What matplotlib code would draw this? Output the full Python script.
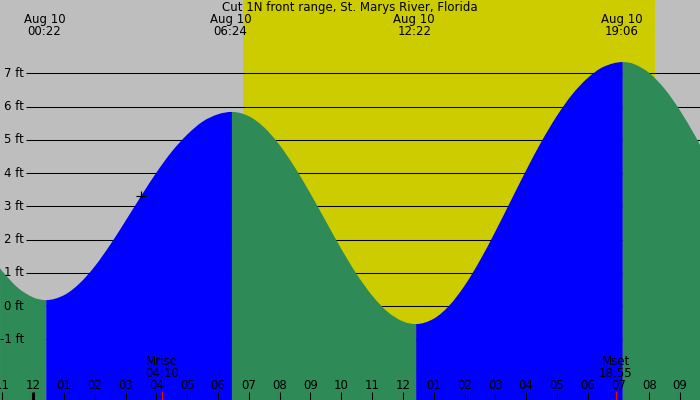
import matplotlib
matplotlib.use("Agg")
import matplotlib.pyplot as plt
from matplotlib.path import Path
from matplotlib.patches import PathPatch

title = "Cut 1N front range, St. Marys River, Florida"
day_label = "Aug 10"

# water level, hours after midnight Aug 10 -> feet
tide_hours = [-1.08, -1.0, -0.5, 0.0, 0.42, 1.0, 1.5, 2.0, 2.5, 3.0, 3.5,
              4.0, 4.5, 5.0, 5.5, 6.0, 6.45, 7.0, 7.5, 8.0, 8.5, 9.0, 9.5,
              10.0, 10.5, 11.0, 11.5, 12.0, 12.43, 13.0, 13.5, 14.0, 14.5,
              15.0, 15.5, 16.0, 16.5, 17.0, 17.5, 18.0, 18.5, 19.14, 19.5,
              20.0, 20.5, 21.0, 21.5, 21.65]
tide_feet = [1.14, 1.04, 0.55, 0.26, 0.18, 0.33, 0.68, 1.20, 1.85, 2.57, 3.31,
             4.02, 4.65, 5.16, 5.55, 5.77, 5.84, 5.71, 5.37, 4.84, 4.16, 3.38, 2.55,
             1.72, 0.96, 0.32, -0.17, -0.46, -0.54, -0.38, 0.01, 0.61, 1.37,
             2.24, 3.16, 4.08, 4.95, 5.72, 6.37, 6.86, 7.19, 7.34, 7.28,
             7.01, 6.53, 5.88, 5.10, 4.84]

# high / low tide turning points (where the fill colour changes)
turn_hours = [0.42, 6.45, 12.43, 19.14]
event_times = ["00:22", "06:24", "12:22", "19:06"]

sunrise, sunset = 6.81, 20.19
moon_names = ["Mrise", "Mset"]
moon_times = ["04:10", "18:55"]

now_hour, now_feet = 3.5, 3.32

feet_levels = [-1, 0, 1, 2, 3, 4, 5, 6, 7]
hour_ticks = list(range(-1, 22))
hour_labels = ["11", "12", "01", "02", "03", "04", "05", "06", "07", "08", "09", "10",
               "11", "12", "01", "02", "03", "04", "05", "06", "07", "08", "09"]

GRAY = "#bebebe"
YELLOW = "#cccc00"
FALL = "#2e8b57"
RISE = "#0000ff"


def to_hours(s):
    hh, mm = s.split(":")
    return int(hh) + int(mm) / 60


def tangents(ts, hs):
    # flat at the turns, centred differences elsewhere
    m = []
    n = len(ts)
    for i in range(n):
        if ts[i] in turn_hours:
            m.append(0.0)
        elif i == 0:
            m.append((hs[1] - hs[0]) / (ts[1] - ts[0]))
        elif i == n - 1:
            m.append((hs[i] - hs[i - 1]) / (ts[i] - ts[i - 1]))
        else:
            m.append((hs[i + 1] - hs[i - 1]) / (ts[i + 1] - ts[i - 1]))
    return m


def water_patch(i0, i1, bottom, color):
    verts = [(tide_hours[i0], bottom), (tide_hours[i0], tide_feet[i0])]
    codes = [Path.MOVETO, Path.LINETO]
    for i in range(i0, i1):
        ta, tb = tide_hours[i], tide_hours[i + 1]
        ha, hb = tide_feet[i], tide_feet[i + 1]
        d = (tb - ta) / 3
        verts += [(ta + d, ha + slope[i] * d), (tb - d, hb - slope[i + 1] * d), (tb, hb)]
        codes += [Path.CURVE4] * 3
    verts += [(tide_hours[i1], bottom), (tide_hours[i0], bottom)]
    codes += [Path.LINETO, Path.CLOSEPOLY]
    return PathPatch(Path(verts, codes), facecolor=color, edgecolor="none", lw=0, zorder=2)


slope = tangents(tide_hours, tide_feet)

fig = plt.figure(figsize=(7, 4), dpi=100, facecolor=GRAY)
ax = fig.add_axes([0, 0, 1, 1])
x0, x1 = -1.081, 21.646
y0, y1 = -2.824, 9.206
ax.set_xlim(x0, x1)
ax.set_ylim(y0, y1)
ax.axis("off")

ax.axvspan(sunrise, sunset, color=YELLOW, lw=0, zorder=0.5)
ax.hlines(feet_levels, -0.237, x1, color="black", lw=0.75, zorder=1)

# water, split at each turn: falling = green, rising = blue
cuts = [0] + [tide_hours.index(t) for t in turn_hours] + [len(tide_hours) - 1]
for k in range(len(cuts) - 1):
    ax.add_patch(water_patch(cuts[k], cuts[k + 1], y0, FALL if k % 2 == 0 else RISE))

ax.plot(now_hour, now_feet, marker="+", ms=7, mew=0.9, color="black", zorder=3)

xt = ax.get_xaxis_transform()
yt = ax.get_yaxis_transform()
fs = 8.5

ax.text(0.5, 1 - 7.5 / 400, title, transform=ax.transAxes, ha="center", va="center",
        fontsize=fs, zorder=4)
for s in event_times:
    t = to_hours(s)
    ax.text(t, 1 - 19.5 / 400, day_label, transform=xt, ha="center", va="center",
            fontsize=fs, zorder=4)
    ax.text(t, 1 - 31.5 / 400, s, transform=xt, ha="center", va="center",
            fontsize=fs, zorder=4)

for lv in feet_levels:
    ax.text(24 / 700, lv, f"{lv} ft", transform=yt, ha="right", va="center",
            fontsize=fs, zorder=4)

for h, lab in zip(hour_ticks, hour_labels):
    ax.text(h, 1 - 385.5 / 400, lab, transform=xt, ha="center", va="center",
            fontsize=fs, zorder=4)
    ax.vlines(h, 0, 8.5 / 400, transform=xt, color="black",
              lw=2.2 if h == 0 else 0.75, zorder=4)

for name, s in zip(moon_names, moon_times):
    t = to_hours(s)
    ax.text(t, 1 - 361.5 / 400, name, transform=xt, ha="center", va="center",
            fontsize=fs, zorder=4)
    ax.text(t, 1 - 373.5 / 400, s, transform=xt, ha="center", va="center",
            fontsize=fs, zorder=4)
    ax.vlines(t, 0, 9.5 / 400, transform=xt, color="red", lw=0.75, zorder=5)

fig.savefig("out.png", dpi=100, facecolor=GRAY)
